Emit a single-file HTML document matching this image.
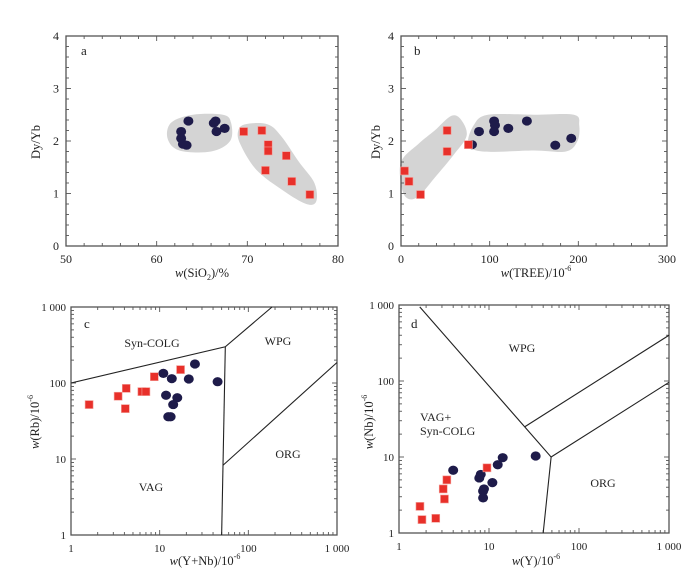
<!DOCTYPE html>
<html><head><meta charset="utf-8"><style>
html,body{margin:0;padding:0;background:#fff;}
svg{display:block;font-family:"Liberation Serif",serif;}
</style></head><body>
<svg id="chart" width="700" height="585" viewBox="0 0 700 585" xmlns="http://www.w3.org/2000/svg"></svg>
<script>
// ---- Panel a data ----
const aCircX = [63.5,62.7,62.7,62.9,63.3,66.3,66.5,66.6,67.5];
const aCircY = [2.38,2.18,2.05,1.94,1.92,2.34,2.38,2.18,2.24];
const aSqX = [69.6,71.6,72.3,72.3,72.0,74.3,74.9,76.9];
const aSqY = [2.18,2.2,1.93,1.81,1.44,1.72,1.23,0.98];
const aXTicks = [50,60,70,80];
const yTicksDy = [0,1,2,3,4];
// ---- Panel b data ----
const bCircX = [80,88,105,106,105,121,142,174,192];
const bCircY = [1.93,2.18,2.38,2.3,2.18,2.24,2.38,1.92,2.05];
const bSqX = [4,9,22,52,52,76];
const bSqY = [1.43,1.23,0.98,1.8,2.2,1.93];
const bXTicks = [0,100,200,300];
// ---- Panel c data ----
const cCircX = [25,11,13.7,21.3,45,11.8,15.8,14.2,12.5,13.3];
const cCircY = [178,134,114,113,104,69,64,52,36,36];
const cSqX = [1.6,3.4,4.2,4.1,6.3,7.0,8.7,17.2];
const cSqY = [52,67,85,46,77,77,121,150];
// ---- Panel d data ----
const dCircX = [4.0,8.1,7.8,12.5,14.2,33,10.9,8.8,8.6,8.6];
const dCircY = [6.7,5.9,5.3,7.9,9.8,10.3,4.6,3.8,3.55,2.9];
const dSqX = [9.5,3.4,3.1,3.2,1.71,1.8,2.56];
const dSqY = [7.2,5.0,3.8,2.8,2.24,1.5,1.56];
const logTicks = [1,10,100,1000];
const logTickLabels = ["1","10","100","1 000"];

const NS="http://www.w3.org/2000/svg";
const svg=document.getElementById('chart');
function mk(tag,attrs,parent){const e=document.createElementNS(NS,tag);for(const k in attrs)e.setAttribute(k,attrs[k]);(parent||svg).appendChild(e);return e;}

function linScale(d0,d1,r0,r1){return v=>r0+(v-d0)/(d1-d0)*(r1-r0);}
function logScale(d0,d1,r0,r1){return v=>r0+(Math.log10(v)-Math.log10(d0))/(Math.log10(d1)-Math.log10(d0))*(r1-r0);}

function frame(g,L,T,R,B){
  const r=mk('rect',{x:L,y:T,width:R-L,height:B-T,fill:'none',stroke:'#555',"stroke-width":1.3},g);
  
  
}
function tick(g,x1,y1,x2,y2){mk('line',{x1,y1,x2,y2,stroke:'#555',"stroke-width":0.9},g);}
function txt(g,x,y,s,opts){const t=mk('text',Object.assign({x,y,"font-size":12,fill:'#222'},opts||{}),g);t.textContent=s;return t;}

function linAxes(g,sx,sy,L,T,R,B,xt,yt,minorX,minorY){
  xt.forEach(v=>{const x=sx(v);tick(g,x,B,x,B-5);tick(g,x,T,x,T+5);
    const t=txt(g,x,B+17,String(v),{"text-anchor":"middle"});
    });
  for(let i=0;i<xt.length-1;i++){for(let k=1;k<minorX;k++){const v=xt[i]+(xt[i+1]-xt[i])*k/minorX;const x=sx(v);tick(g,x,B,x,B-3);tick(g,x,T,x,T+3);}}
  yt.forEach(v=>{const y=sy(v);tick(g,L,y,L+5,y);tick(g,R,y,R-5,y);
    const t=txt(g,L-7,y+4,String(v),{"text-anchor":"end"});
    });
  for(let i=0;i<yt.length-1;i++){for(let k=1;k<minorY;k++){const v=yt[i]+(yt[i+1]-yt[i])*k/minorY;const y=sy(v);tick(g,L,y,L+3,y);tick(g,R,y,R-3,y);}}
}
function logAxes(g,sx,sy,L,T,R,B){
  logTicks.forEach((v,i)=>{
    const x=sx(v),y=sy(v);
    tick(g,x,B,x,B-5);tick(g,x,T,x,T+5);tick(g,L,y,L+5,y);tick(g,R,y,R-5,y);
    const tx=txt(g,x,B+17,logTickLabels[i],{"text-anchor":"middle","font-size":11});
    
    const ty=txt(g,L-5,y+4,logTickLabels[i],{"text-anchor":"end","font-size":11});
    
    if(i<3){for(let m=2;m<10;m++){const vx=v*m;const xx=sx(vx),yy=sy(vx);
      tick(g,xx,B,xx,B-3);tick(g,xx,T,xx,T+3);tick(g,L,yy,L+3,yy);tick(g,R,yy,R-3,yy);}}
  });
}
function circles(g,sx,sy,X,Y){
  X.forEach((v,i)=>{const c=mk('ellipse',{cx:sx(v),cy:sy(Y[i]),rx:5,ry:4.6,fill:'#1e1b4a'},g);
    });
}
function squares(g,sx,sy,X,Y){
  X.forEach((v,i)=>{const r=mk('rect',{x:sx(v)-4,y:sy(Y[i])-4,width:8,height:8,fill:'#e8302a',stroke:'#f4a09a',"stroke-width":0.6},g);
    });
}
function blob(g,pts,sx,sy,name){
  const p=pts.map(q=>[sx(q[0]),sy(q[1])]);
  let d='M'+p[0][0]+','+p[0][1];
  const n=p.length;
  for(let i=0;i<n;i++){const p0=p[(i-1+n)%n],p1=p[i],p2=p[(i+1)%n],p3=p[(i+2)%n];
    const c1=[p1[0]+(p2[0]-p0[0])/6,p1[1]+(p2[1]-p0[1])/6],c2=[p2[0]-(p3[0]-p1[0])/6,p2[1]-(p3[1]-p1[1])/6];
    d+=' C'+c1+' '+c2+' '+p2;}
  const e=mk('path',{d:d+'Z',fill:'#d4d4d4'},g);
  
}
function line(g,sx,sy,pts,name){
  const e=mk('polyline',{points:pts.map(q=>sx(q[0])+','+sy(q[1])).join(' '),fill:'none',stroke:'#222',"stroke-width":1.1},g);
  
}
function axisTitleX(g,x,y,main,sub,tail,sup){
  const t=mk('text',{x,y,"font-size":12.5,"text-anchor":"middle",fill:'#222'},g);
  
  const i=mk('tspan',{"font-style":"italic"},t);i.textContent='w';
  const a=mk('tspan',{},t);a.textContent=main;
  if(sub){const s=mk('tspan',{"font-size":8,dy:3},t);s.textContent=sub;const b=mk('tspan',{dy:-3},t);b.textContent=tail;}
  if(sup){const s=mk('tspan',{"font-size":8,dy:-6},t);s.textContent=sup;}
}
function axisTitleY(g,x,y,main,sup){
  const t=mk('text',{x:0,y:0,"font-size":12.5,"text-anchor":"middle",fill:'#222',transform:`translate(${x},${y}) rotate(-90)`},g);
  
  if(sup){const i=mk('tspan',{"font-style":"italic"},t);i.textContent='w';}
  const a=mk('tspan',{},t);a.textContent=main;
  if(sup){const s=mk('tspan',{"font-size":8,dy:-6},t);s.textContent=sup;}
}

// ===== Panel a =====
(function(){
  const L=66,R=338,T=36,B=246;
  const g=mk('g',{});
  const sx=linScale(50,80,L,R),sy=linScale(0,4,B,T);
  blob(g,[[61.2,2.05],[61.6,2.35],[64,2.5],[67.3,2.5],[68.2,2.35],[68.1,2.0],[66,1.8],[62.5,1.82]],sx,sy,'circle-group-field');
  blob(g,[[69.0,2.2],[69.8,2.32],[72.2,2.32],[73.7,2.1],[75.7,1.6],[77.4,1.2],[77.6,0.85],[76.5,0.8],[74,1.05],[71,1.45],[69.2,1.95]],sx,sy,'square-group-field');
  frame(g,L,T,R,B);
  linAxes(g,sx,sy,L,T,R,B,aXTicks,yTicksDy,5,5);
  circles(g,sx,sy,aCircX,aCircY);squares(g,sx,sy,aSqX,aSqY);
  const l=txt(g,81,55,'a',{"font-size":13});
  axisTitleX(g,202,277,'(SiO','2',')/%');
  axisTitleY(g,40,142,'Dy/Yb');
})();
// ===== Panel b =====
(function(){
  const L=401,R=667,T=36,B=246;
  const g=mk('g',{});
  const sx=linScale(0,300,L,R),sy=linScale(0,4,B,T);
  blob(g,[[0,1.6],[20,1.95],[38,2.2],[57,2.48],[68,2.4],[74,2.1],[60,1.75],[38,1.3],[20,0.95],[8,0.9],[1,1.1]],sx,sy,'square-group-field');
  blob(g,[[82,2.3],[98,2.5],[150,2.5],[195,2.5],[201,2.3],[199,2.0],[186,1.8],[150,1.82],[92,1.8],[76,1.95]],sx,sy,'circle-group-field');
  frame(g,L,T,R,B);
  linAxes(g,sx,sy,L,T,R,B,bXTicks,yTicksDy,5,5);
  circles(g,sx,sy,bCircX,bCircY);squares(g,sx,sy,bSqX,bSqY);
  const l=txt(g,414,55,'b',{"font-size":13});
  axisTitleX(g,536,277,'(TREE)/10',null,null,'-6');
  axisTitleY(g,380,142,'Dy/Yb');
})();
// ===== Panel c =====
(function(){
  const L=71,R=337,T=307,B=535;
  const g=mk('g',{});
  const sx=logScale(1,1000,L,R),sy=logScale(1,1000,B,T);
  frame(g,L,T,R,B);
  logAxes(g,sx,sy,L,T,R,B);
  line(g,sx,sy,[[1,100],[55,300],[185,1000]],'syn-colg-boundary');
  line(g,sx,sy,[[55,300],[50,1]],'vag-wpg-boundary');
  line(g,sx,sy,[[52,8.3],[1000,186]],'wpg-org-boundary');
  circles(g,sx,sy,cCircX,cCircY);squares(g,sx,sy,cSqX,cSqY);
  [['Syn-COLG',152,347,'field-label-syn-colg'],['WPG',278,345,'field-label-wpg'],['ORG',288,458,'field-label-org'],['VAG',151,491,'field-label-vag']].forEach(a=>{
    const t=txt(g,a[1],a[2],a[0],{"text-anchor":"middle","font-size":12});});
  const l=txt(g,84,328,'c',{"font-size":13});
  axisTitleX(g,205,565,'(Y+Nb)/10',null,null,'-6');
  axisTitleY(g,39,422,'(Rb)/10','-6');
})();
// ===== Panel d =====
(function(){
  const L=399,R=669,T=305,B=533;
  const g=mk('g',{});
  const sx=logScale(1,1000,L,R),sy=logScale(1,1000,B,T);
  frame(g,L,T,R,B);
  logAxes(g,sx,sy,L,T,R,B);
  line(g,sx,sy,[[1.7,944],[49,10],[40,1]],'vag-boundary');
  line(g,sx,sy,[[49,10],[1000,96]],'org-wpg-boundary');
  line(g,sx,sy,[[25,25],[1000,400]],'wpg-inner-boundary');
  circles(g,sx,sy,dCircX,dCircY);squares(g,sx,sy,dSqX,dSqY);
  [['WPG',522,352,'field-label-wpg','middle'],['VAG+',420,421,'field-label-vag','start'],['Syn-COLG',420,435,'field-label-syn-colg','start'],['ORG',603,487,'field-label-org','middle']].forEach(a=>{
    const t=txt(g,a[1],a[2],a[0],{"text-anchor":a[4],"font-size":12});});
  const l=txt(g,411,328,'d',{"font-size":13});
  axisTitleX(g,536,565,'(Y)/10',null,null,'-6');
  axisTitleY(g,373,422,'(Nb)/10','-6');
})();
</script>
</body></html>
